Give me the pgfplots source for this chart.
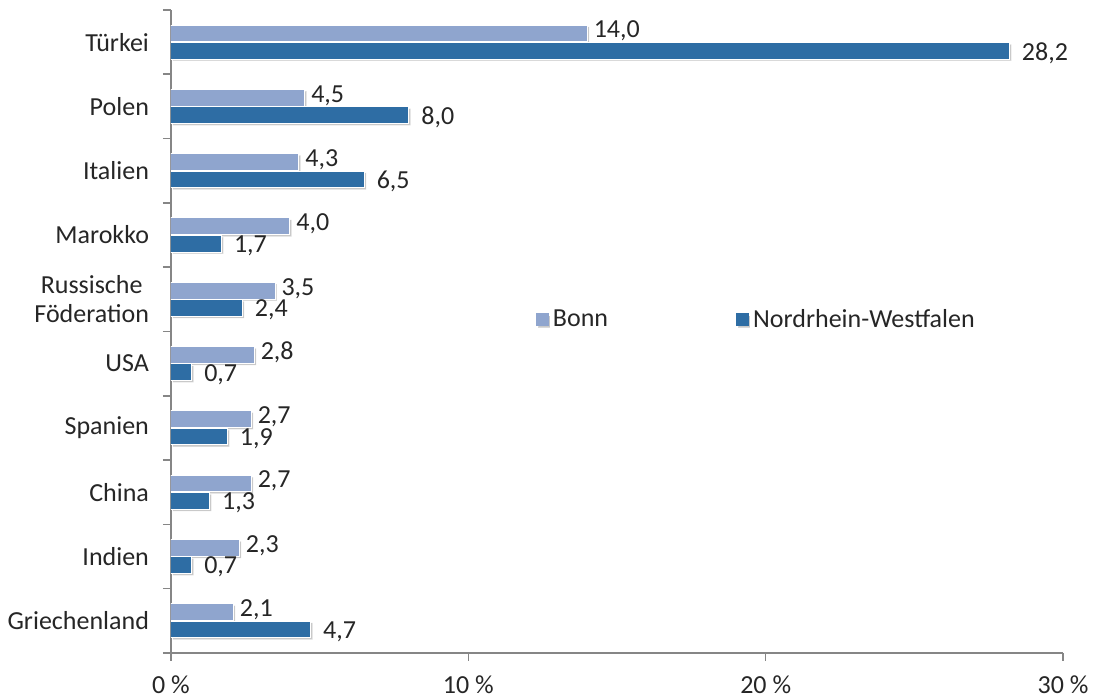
\documentclass[border=0pt]{standalone}
\usepackage{fontspec}
\setmainfont{Carlito}
\usepackage{pgfplots}
\pgfplotsset{compat=1.18}
\usetikzlibrary{shadows}
\definecolor{bonn}{RGB}{143,165,206}
\definecolor{nrw}{RGB}{46,109,164}
\definecolor{txt}{RGB}{38,38,38}
\definecolor{axgray}{RGB}{134,134,134}
\newcommand{\lblfont}{\fontsize{13}{14.5}\selectfont}
\begin{document}
\begin{tikzpicture}
\useasboundingbox (-85.5pt,-23.5pt) rectangle (463.5pt,326.5pt);
\begin{axis}[
  at={(0,0)}, anchor=south west, scale only axis,
  width=446pt, height=321.5pt,
  xbar,
  xmin=0, xmax=30, ymin=-0.5, ymax=9.5,
  bar width=0.26,
  axis x line*=bottom, axis y line*=left,
  axis line style={axgray, line width=0.8pt},
  tick style={axgray, line width=0.8pt},
  tick align=outside,
  major tick length=4pt,
  xtick={0,10,20,30},
  xticklabels={0 \%,10 \%,20 \%,30 \%},
  xticklabel style={font=\lblfont, color=txt, yshift=-4pt},
  ytick={-0.5,0.5,...,9.5},
  yticklabels={},
  extra y ticks={0,1,2,3,4,5,6,7,8,9},
  extra y tick labels={Griechenland,Indien,China,Spanien,USA,{Russische\\Föderation},Marokko,Italien,Polen,Türkei},
  extra y tick style={major tick length=0pt, yticklabel style={font=\lblfont, color=txt, align=center, xshift=-7.5pt}},
  /pgf/number format/assume math mode=true,
  nodes near coords,
  nodes near coords align={horizontal},
  /pgf/number format/.cd, fixed, fixed zerofill, precision=1, use comma,
  /pgfplots/.cd,
  every node near coord/.append style={font=\lblfont, color=txt, anchor=west, inner sep=2pt},
  legend style={at={(0.402,0.518)}, anchor=west, draw=none, fill=none, legend columns=2, font=\lblfont, text=txt,
    /tikz/every even column/.append style={column sep=62pt}},
]
\addplot[fill=bonn, draw=white, line width=0.5pt, bar shift=0.135,
  drop shadow={shadow xshift=0.9pt, shadow yshift=-0.9pt, opacity=0.3, fill=black!70},
  every node near coord/.append style={xshift=1pt, yshift=1.2pt},
  legend image code/.code={\fill[bonn] (0pt,-3pt) rectangle (6pt,3pt);}]
  coordinates {(2.1,0) (2.3,1) (2.7,2) (2.7,3) (2.8,4) (3.5,5) (4.0,6) (4.3,7) (4.5,8) (14.0,9)};
\addlegendentry{Bonn}
\addplot[fill=nrw, draw=white, line width=0.5pt, bar shift=-0.135,
  drop shadow={shadow xshift=0.9pt, shadow yshift=-0.9pt, opacity=0.3, fill=black!70},
  every node near coord/.append style={xshift=4pt, yshift=-1pt},
  legend image code/.code={\fill[nrw] (0pt,-3pt) rectangle (6pt,3pt);}]
  coordinates {(4.7,0) (0.7,1) (1.3,2) (1.9,3) (0.7,4) (2.4,5) (1.7,6) (6.5,7) (8.0,8) (28.2,9)};
\addlegendentry{Nordrhein-Westfalen}
\end{axis}
\end{tikzpicture}
\end{document}
